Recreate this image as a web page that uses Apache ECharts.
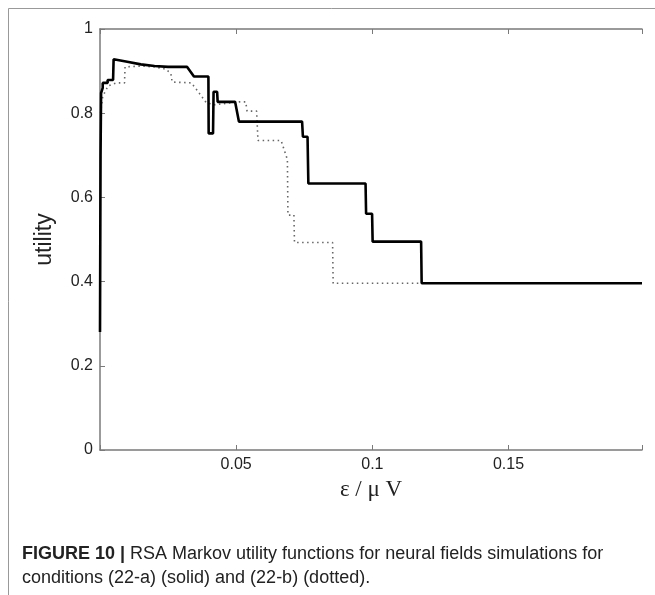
<!DOCTYPE html>
<html>
<head>
<meta charset="utf-8">
<script src="https://cdn.jsdelivr.net/npm/echarts@6/dist/echarts.min.js"></script>
<style>
html,body{margin:0;padding:0;background:#fff;}
#c{width:655px;height:595px;}
</style>
</head>
<body>
<div id="c"></div>
<script>
// solid curve (condition 22-a)
var solidX = [0.0000,0.0002,0.0004,0.0010,0.0010,0.0028,0.0028,0.0048,0.0050,0.0100,0.0150,0.0200,0.0250,0.0320,0.0345,0.0398,0.0399,0.0415,0.0417,0.0430,0.0432,0.0496,0.0510,0.0742,0.0745,0.0762,0.0765,0.0975,0.0977,0.0999,0.1001,0.1179,0.1181,0.1990];
var solidY = [0.28,0.70,0.848,0.860,0.872,0.872,0.879,0.879,0.928,0.922,0.916,0.912,0.910,0.910,0.887,0.887,0.752,0.752,0.851,0.851,0.827,0.827,0.780,0.780,0.744,0.744,0.633,0.633,0.561,0.561,0.495,0.495,0.396,0.396];
// dotted curve (condition 22-b)
var dottedX = [0.0002,0.0010,0.0030,0.0060,0.0090,0.0092,0.0150,0.0200,0.0240,0.0260,0.0265,0.0335,0.0350,0.0390,0.0420,0.0510,0.0535,0.0540,0.0575,0.0580,0.0665,0.0688,0.0690,0.0712,0.0714,0.0854,0.0856,0.1990];
var dottedY = [0.80,0.84,0.865,0.872,0.872,0.910,0.912,0.910,0.905,0.895,0.874,0.872,0.860,0.825,0.820,0.827,0.827,0.805,0.805,0.735,0.735,0.690,0.558,0.558,0.493,0.493,0.396,0.396];
var xTickLabels = ['0.05','0.1','0.15'];
var yTickLabels = ['0','0.2','0.4','0.6','0.8','1'];

function zip(a,b){var r=[];for(var i=0;i<a.length;i++)r.push([a[i],b[i]]);return r;}

var chart = echarts.init(document.getElementById('c'), null, {renderer:'canvas'});
var lblFont = 'Liberation Sans';
var axisCol = '#7a7a7a';
chart.setOption({
  backgroundColor:'#fff',
  animation:false,
  grid:{left:100,right:13,top:29,bottom:145},
  xAxis:[{
    type:'value',min:0,max:0.199,interval:0.05,
    axisLine:{show:true,onZero:false,lineStyle:{color:axisCol,width:1.5}},
    axisTick:{show:true,inside:true,length:5,lineStyle:{color:axisCol}},
    splitLine:{show:false},
    axisLabel:{fontFamily:lblFont,fontSize:16,color:'#222',margin:7,
      formatter:function(v){var s=String(+v.toFixed(2));return xTickLabels.indexOf(s)>=0?s:'';}},
    name:'\u03b5 / \u03bc V',nameLocation:'middle',nameGap:28,
    nameTextStyle:{fontFamily:'Liberation Serif',fontSize:23,color:'#222'}
  },{
    type:'value',min:0,max:0.199,interval:0.05,position:'top',
    axisLine:{show:true,onZero:false,lineStyle:{color:axisCol,width:1.5}},
    axisTick:{show:true,inside:true,length:5,lineStyle:{color:axisCol}},
    axisLabel:{show:false},splitLine:{show:false}
  }],
  yAxis:[{
    type:'value',min:0,max:1,interval:0.2,
    axisLine:{show:true,onZero:false,lineStyle:{color:axisCol,width:1.5}},
    axisTick:{show:true,inside:true,length:5,lineStyle:{color:axisCol}},
    splitLine:{show:false},
    axisLabel:{fontFamily:lblFont,fontSize:16,color:'#222',margin:7,
      formatter:function(v){var s=String(+v.toFixed(1));return yTickLabels.indexOf(s)>=0?s:'';}},
    name:'utility',nameLocation:'middle',nameGap:44,nameRotate:90,
    nameTextStyle:{fontFamily:lblFont,fontSize:23,color:'#222'}
  }],
  series:[{
    type:'line',data:zip(dottedX,dottedY),showSymbol:false,symbol:'none',
    lineStyle:{color:'#666',width:1.6,type:[1.5,3.5]},z:2
  },{
    type:'line',data:zip(solidX,solidY),showSymbol:false,symbol:'none',
    lineStyle:{color:'#000',width:2.6},z:3
  }],
  graphic:[
    {type:'line',shape:{x1:8.5,y1:8.5,x2:655,y2:8.5},style:{stroke:'#999',lineWidth:1}},
    {type:'line',shape:{x1:8.5,y1:8.5,x2:8.5,y2:595},style:{stroke:'#999',lineWidth:1}},
    {type:'text',left:22,top:545,style:{
      text:'{b|FIGURE 10 |} RSA Markov utility functions for neural fields simulations for',
      rich:{b:{fontFamily:lblFont,fontSize:18,fontWeight:'bold',fill:'#222'}},
      fontFamily:lblFont,fontSize:18,fill:'#222'}},
    {type:'text',left:22,top:569,style:{
      text:'conditions (22-a) (solid) and (22-b) (dotted).',
      fontFamily:lblFont,fontSize:18,fill:'#222'}}
  ]
});
</script>
</body>
</html>
